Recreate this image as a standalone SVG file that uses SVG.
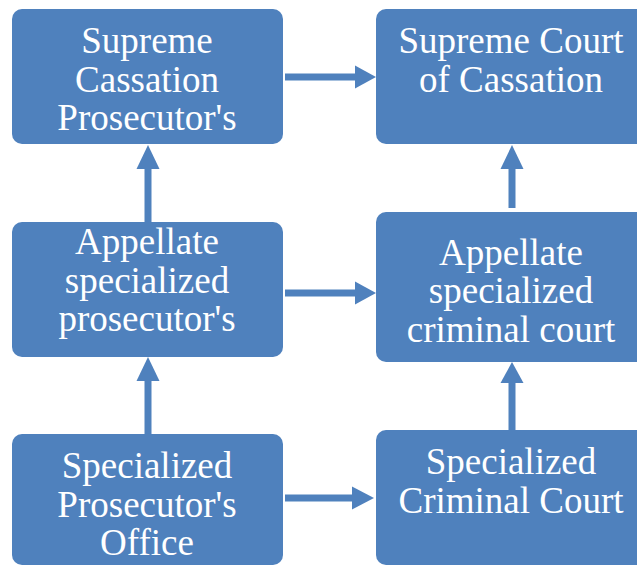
<svg xmlns="http://www.w3.org/2000/svg" width="637" height="567" viewBox="0 0 637 567">
<style>
.box{fill:#4F81BD;}
.c{stroke:#4F81BD;stroke-width:7;fill:none;}
.h{fill:#4F81BD;}
</style>
<rect width="637" height="567" fill="#FFFFFF"/>
<g id="connectors">
<line class="c" x1="285" y1="77" x2="357" y2="77"/><polygon class="h" points="355,65.5 376,77 355,88.5"/>
<line class="c" x1="285" y1="293" x2="357" y2="293"/><polygon class="h" points="355,281.5 376,293 355,304.5"/>
<line class="c" x1="285" y1="498" x2="354" y2="498"/><polygon class="h" points="352,486.5 374,498 352,509.5"/>
<line class="c" x1="148" y1="222" x2="148" y2="166"/><polygon class="h" points="136.5,169 148,145 159.5,169"/>
<line class="c" x1="148" y1="434" x2="148" y2="378"/><polygon class="h" points="136.5,381 148,357 159.5,381"/>
<line class="c" x1="512" y1="208" x2="512" y2="166"/><polygon class="h" points="500.5,169 512,145 523.5,169"/>
<line class="c" x1="512" y1="430" x2="512" y2="380"/><polygon class="h" points="500.5,383 512,362 523.5,383"/>
</g>
<g font-family="Liberation Serif" font-size="37" fill="#FFFFFF" text-anchor="middle">
<g id="supreme-prosecutor">
<rect class="box" x="12" y="9" width="271" height="135" rx="10"/>
<text x="147" y="53">Supreme</text>
<text x="147" y="91.5">Cassation</text>
<text x="147" y="130">Prosecutor's</text>
</g>
<g id="supreme-court">
<rect class="box" x="376" y="9" width="272" height="135" rx="10"/>
<text x="511" y="53">Supreme Court</text>
<text x="511" y="91.5">of Cassation</text>
</g>
<g id="appellate-prosecutor">
<rect class="box" x="12" y="222" width="271" height="135" rx="10"/>
<text x="147" y="254">Appellate</text>
<text x="147" y="292.5">specialized</text>
<text x="147" y="331">prosecutor's</text>
</g>
<g id="appellate-court">
<rect class="box" x="376" y="212" width="272" height="150" rx="10"/>
<text x="511" y="264.5">Appellate</text>
<text x="511" y="303">specialized</text>
<text x="511" y="341.5">criminal court</text>
</g>
<g id="specialized-prosecutor">
<rect class="box" x="12" y="434" width="271" height="131" rx="10"/>
<text x="147" y="478">Specialized</text>
<text x="147" y="516.5">Prosecutor's</text>
<text x="147" y="555">Office</text>
</g>
<g id="specialized-court">
<rect class="box" x="376" y="430" width="272" height="135" rx="10"/>
<text x="511" y="474">Specialized</text>
<text x="511" y="512.5">Criminal Court</text>
</g>
</g>
</svg>
